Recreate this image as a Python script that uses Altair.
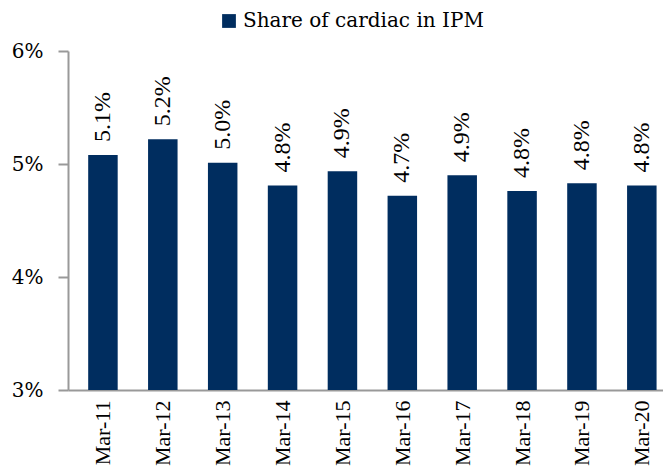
import altair as alt
import pandas as pd

months = ["Mar-11", "Mar-12", "Mar-13", "Mar-14", "Mar-15",
          "Mar-16", "Mar-17", "Mar-18", "Mar-19", "Mar-20"]
share = [5.08, 5.22, 5.01, 4.81, 4.935, 4.72, 4.90, 4.76, 4.83, 4.81]
series_name = "Share of cardiac in IPM"

df = pd.DataFrame({"idx": list(range(len(months))), "month": months,
                   "share": share, "series": series_name})

NAVY = "#002D5F"
AXIS_GRAY = "#999999"

# plot area is 595 px; one category step is ~60.9 px, so the last
# category step is cut at the right edge as in the reference
STEP = 60.9
PLOT_W = 595
x_max = -0.5 + PLOT_W / STEP

month_js = "[" + ",".join("'" + m + "'" for m in months) + "]"

x = alt.X("idx:Q", title=None,
          scale=alt.Scale(domain=[-0.5, x_max], nice=False, zero=False),
          axis=alt.Axis(values=list(range(len(months))),
                        labelExpr=month_js + "[datum.value]",
                        labelAngle=-90, ticks=False, labelPadding=10,
                        grid=False, labelFlush=False, labelOverlap=False,
                        labelFont="Liberation Serif", labelFontSize=22,
                        labelColor="#000000", domainColor=AXIS_GRAY,
                        domainWidth=2))

y = alt.Y("share:Q", title=None,
          scale=alt.Scale(domain=[3, 6], zero=False, nice=False),
          axis=alt.Axis(values=[3, 4, 5, 6], labelExpr="datum.value + '%'",
                        grid=False, tickSize=10, tickColor=AXIS_GRAY,
                        tickWidth=2, domainColor=AXIS_GRAY, domainWidth=2,
                        labelPadding=15, labelFont="DejaVu Serif",
                        labelFontSize=20, labelColor="#000000"))

bars = alt.Chart(df).mark_bar(size=29.5).encode(
    x=x,
    y=y,
    y2=alt.datum(3),
    color=alt.Color("series:N", title=None,
                    scale=alt.Scale(range=[NAVY]),
                    legend=alt.Legend(orient="none", legendX=151, legendY=-40,
                                      symbolType="square", symbolSize=190,
                                      symbolStrokeWidth=0, labelFont="DejaVu Serif",
                                      labelFontSize=20, labelColor="#000000",
                                      labelOffset=4, padding=0, labelLimit=0)),
)

labels = alt.Chart(df).transform_calculate(
    lbl="format(datum.share, '.1f') + '%'"
).mark_text(
    angle=270, align="left", baseline="middle", dx=13,
    font="Liberation Serif", fontSize=24, color="#000000"
).encode(
    x=alt.X("idx:Q"),
    y=alt.Y("share:Q"),
    text="lbl:N",
)

chart = alt.layer(bars, labels).properties(
    width=PLOT_W, height=339,
    autosize=alt.AutoSizeParams(type="none"),
    padding={"left": 60, "top": 43, "right": 0, "bottom": 77},
).configure_view(stroke=None)

chart.save("out.html", embed_options={"renderer": "svg", "actions": False})
